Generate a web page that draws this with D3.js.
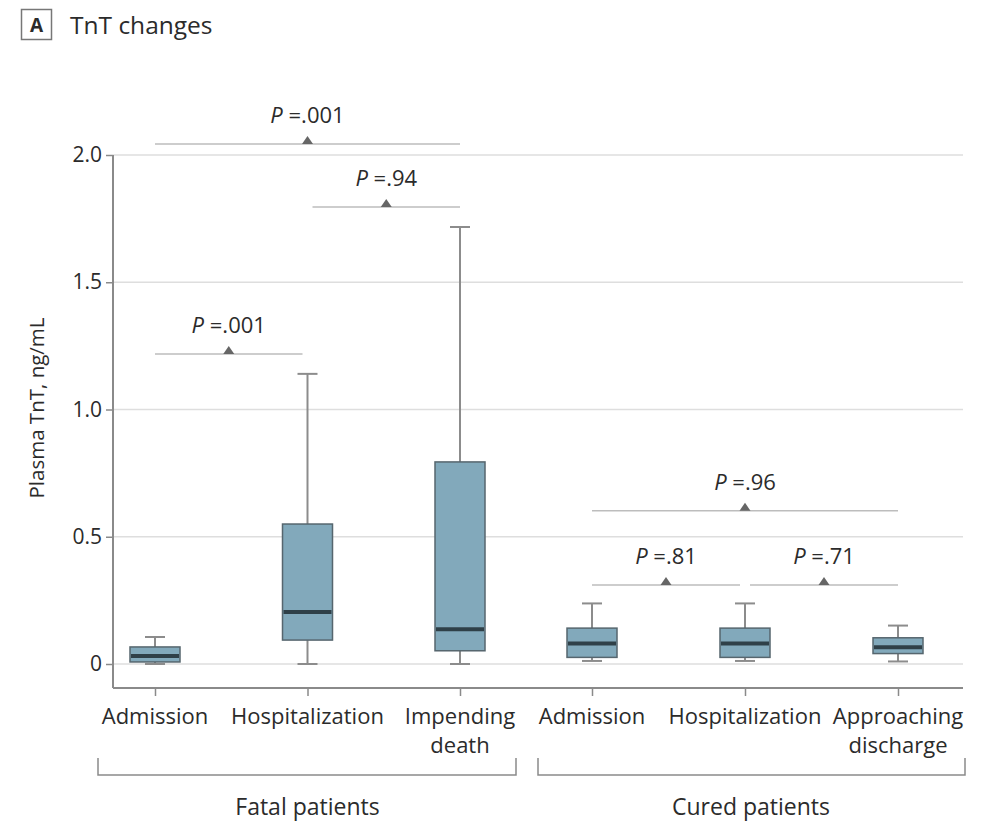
<!DOCTYPE html>
<html>
<head>
<meta charset="utf-8">
<script src="https://cdn.jsdelivr.net/npm/d3@7"></script>
<style>
  body { margin: 0; background: #fff; }
  text { font-family: "Open Sans", "Noto Sans", sans-serif; fill: #2b2b2b; }
</style>
</head>
<body>
<div id="chart"></div>
<script>
// categories and groups
const categories = ['Admission', 'Hospitalization', 'Impending death', 'Admission', 'Hospitalization', 'Approaching discharge'];
const groupNames = ['Fatal patients', 'Cured patients'];
const groupFirst = [0, 3];
const groupLast = [2, 5];

// box plot values, ng/mL
const mins    = [0,     0,     0,     0.012, 0.012, 0.010];
const q1s     = [0.008, 0.094, 0.052, 0.026, 0.026, 0.041];
const medians = [0.031, 0.204, 0.137, 0.081, 0.081, 0.066];
const q3s     = [0.067, 0.550, 0.794, 0.141, 0.141, 0.103];
const maxs    = [0.106, 1.140, 1.717, 0.238, 0.238, 0.151];

// comparisons
const pLabels = ['.001', '.94', '.001', '.96', '.81', '.71'];
const pFrom   = [0, 1, 0, 3, 3, 4];
const pTo     = [2, 2, 1, 5, 4, 5];
const pLevel  = [2.043, 1.796, 1.218, 0.602, 0.31, 0.31];

const yTicks = [0, 0.5, 1.0, 1.5, 2.0];

const width = 984;
const height = 821;

const svg = d3.select('#chart').append('svg')
  .attr('width', width)
  .attr('height', height);

// x: piecewise so the two groups sit apart
const x = d3.scaleLinear()
  .domain([0, 1, 2, 3, 4, 5])
  .range([155, 307.5, 460, 592, 745, 898]);

const y = d3.scaleLinear()
  .domain([0, 2])
  .range([664, 155]);

const left = 113, right = 963, axisY = 688;

// title
svg.append('rect')
  .attr('x', 21.5).attr('y', 9.5)
  .attr('width', 30).attr('height', 30)
  .attr('fill', 'none')
  .attr('stroke', '#777')
  .attr('stroke-width', 1.5);
svg.append('text')
  .attr('x', 36.5).attr('y', 32)
  .attr('text-anchor', 'middle')
  .attr('font-size', 19)
  .attr('font-weight', 700)
  .text('A');
svg.append('text')
  .attr('x', 70).attr('y', 34)
  .attr('font-size', 24.5)
  .text('TnT changes');

// grid
svg.append('g')
  .selectAll('line')
  .data(yTicks)
  .enter().append('line')
  .attr('x1', left).attr('x2', right)
  .attr('y1', d => y(d)).attr('y2', d => y(d))
  .attr('stroke', '#dedede')
  .attr('stroke-width', 1.5);

// y axis
const yAxis = svg.append('g')
  .attr('transform', `translate(${left},0)`)
  .call(d3.axisLeft(y)
    .tickValues(yTicks)
    .tickSize(7)
    .tickPadding(4)
    .tickFormat(d => d === 0 ? '0' : d3.format('.1f')(d)));
yAxis.attr('font-family', null);
yAxis.select('.domain').remove();
yAxis.selectAll('line').attr('stroke', '#8a8a8a').attr('stroke-width', 1.5);
yAxis.selectAll('text').attr('font-size', 21).attr('fill', '#2b2b2b');

svg.append('line')
  .attr('x1', left).attr('x2', left)
  .attr('y1', y(2)).attr('y2', axisY)
  .attr('stroke', '#8a8a8a').attr('stroke-width', 2);

// x axis
const xAxis = svg.append('g')
  .attr('transform', `translate(0,${axisY})`)
  .call(d3.axisBottom(x)
    .tickValues(d3.range(categories.length))
    .tickSize(8)
    .tickFormat(''));
xAxis.select('.domain').remove();
xAxis.selectAll('line').attr('stroke', '#8a8a8a').attr('stroke-width', 1.5);

svg.append('line')
  .attr('x1', left).attr('x2', right)
  .attr('y1', axisY).attr('y2', axisY)
  .attr('stroke', '#8a8a8a').attr('stroke-width', 2);

// category labels (wrapped on two lines where needed)
const catLabel = svg.append('g')
  .selectAll('text')
  .data(categories)
  .enter().append('text')
  .attr('text-anchor', 'middle')
  .attr('font-size', 22)
  .attr('y', 724);
catLabel.each(function (d, i) {
  const words = d.split(' ');
  d3.select(this).selectAll('tspan')
    .data(words)
    .enter().append('tspan')
    .attr('x', x(i))
    .attr('dy', (w, j) => j === 0 ? 0 : 29)
    .text(w => w);
});

// y label
svg.append('text')
  .attr('transform', 'translate(44,408) rotate(-90)')
  .attr('text-anchor', 'middle')
  .attr('font-size', 20.5)
  .text('Plasma TnT, ng/mL');

// group brackets
const brY = 775, brTop = 758;
groupNames.forEach((g, k) => {
  const x1 = x(groupFirst[k]) - (k === 0 ? 57 : 54);
  const x2 = x(groupLast[k]) + (k === 0 ? 56 : 67);
  svg.append('path')
    .attr('d', `M${x1},${brTop}V${brY}H${x2}V${brTop}`)
    .attr('fill', 'none')
    .attr('stroke', '#8a8a8a')
    .attr('stroke-width', 1.5);
  svg.append('text')
    .attr('x', (x(groupFirst[k]) + x(groupLast[k])) / 2 + (k === 0 ? 0 : 6))
    .attr('y', 815)
    .attr('text-anchor', 'middle')
    .attr('font-size', 23)
    .text(g);
});

// boxes
const boxW = 50, capW = 20;
const boxes = svg.append('g')
  .selectAll('g')
  .data(categories)
  .enter().append('g')
  .attr('transform', (d, i) => `translate(${x(i)},0)`);

boxes.append('line')
  .attr('y1', (d, i) => y(q3s[i])).attr('y2', (d, i) => y(maxs[i]))
  .attr('stroke', '#8c8c8c').attr('stroke-width', 2);
boxes.append('line')
  .attr('y1', (d, i) => y(q1s[i])).attr('y2', (d, i) => y(mins[i]))
  .attr('stroke', '#8c8c8c').attr('stroke-width', 2);
boxes.append('line')
  .attr('x1', -capW / 2).attr('x2', capW / 2)
  .attr('y1', (d, i) => y(maxs[i])).attr('y2', (d, i) => y(maxs[i]))
  .attr('stroke', '#8c8c8c').attr('stroke-width', 2);
boxes.append('line')
  .attr('x1', -capW / 2).attr('x2', capW / 2)
  .attr('y1', (d, i) => y(mins[i])).attr('y2', (d, i) => y(mins[i]))
  .attr('stroke', '#8c8c8c').attr('stroke-width', 2);

boxes.append('rect')
  .attr('x', -boxW / 2)
  .attr('width', boxW)
  .attr('y', (d, i) => y(q3s[i]))
  .attr('height', (d, i) => y(q1s[i]) - y(q3s[i]))
  .attr('fill', '#82a9bb')
  .attr('stroke', '#56666e')
  .attr('stroke-width', 1.5);

boxes.append('line')
  .attr('x1', -boxW / 2 + 1).attr('x2', boxW / 2 - 1)
  .attr('y1', (d, i) => y(medians[i])).attr('y2', (d, i) => y(medians[i]))
  .attr('stroke', '#2f4048').attr('stroke-width', 4);

// P value brackets
const pg = svg.append('g')
  .selectAll('g')
  .data(pLabels)
  .enter().append('g');

const px1 = i => x(pFrom[i]) + (pFrom[i] % 3 === 0 ? 0 : 5);
const px2 = i => x(pTo[i]) - (pTo[i] % 3 === 2 ? 0 : 5);
const pmid = i => (px1(i) + px2(i)) / 2;

pg.append('line')
  .attr('x1', (d, i) => px1(i)).attr('x2', (d, i) => px2(i))
  .attr('y1', (d, i) => y(pLevel[i])).attr('y2', (d, i) => y(pLevel[i]))
  .attr('stroke', '#bdbdbd').attr('stroke-width', 1.5);

pg.append('path')
  .attr('d', (d, i) => {
    const cx = pmid(i), cy = y(pLevel[i]);
    return `M${cx - 5.5},${cy}L${cx + 5.5},${cy}L${cx},${cy - 8}Z`;
  })
  .attr('fill', '#666');

const pt = pg.append('text')
  .attr('x', (d, i) => pmid(i))
  .attr('y', (d, i) => y(pLevel[i]) - 21)
  .attr('text-anchor', 'middle')
  .attr('font-size', 22);
pt.append('tspan').attr('font-style', 'italic').text('P');
pt.append('tspan').text(d => ' =' + d);
</script>
</body>
</html>
